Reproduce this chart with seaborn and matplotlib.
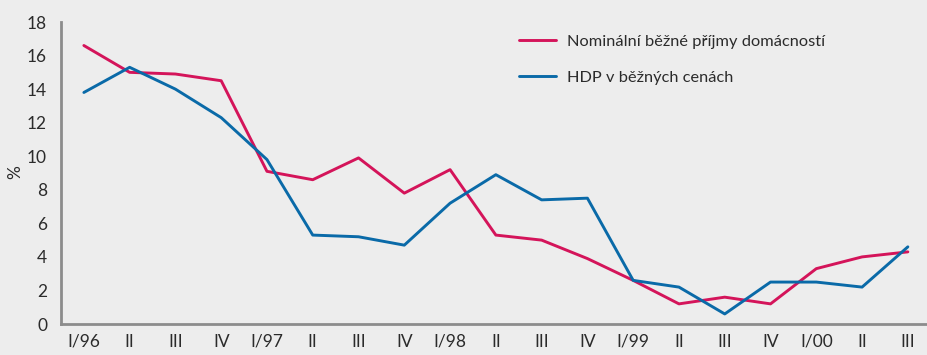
import matplotlib
matplotlib.use("Agg")
import matplotlib.pyplot as plt
import seaborn as sns
import pandas as pd
import numpy as np

quarters = ["I/96", "II", "III", "IV", "I/97", "II", "III", "IV", "I/98", "II",
            "III", "IV", "I/99", "II", "III", "IV", "I/00", "II", "III"]
prijmy = [16.6, 15.0, 14.9, 14.5, 9.1, 8.6, 9.9, 7.8, 9.2, 5.3,
          5.0, 3.9, 2.6, 1.2, 1.6, 1.2, 3.3, 4.0, 4.3]
hdp = [13.8, 15.3, 14.0, 12.3, 9.8, 5.3, 5.2, 4.7, 7.2, 8.9,
       7.4, 7.5, 2.6, 2.2, 0.6, 2.5, 2.5, 2.2, 4.6]
series_names = ["Nominální běžné příjmy domácností", "HDP v běžných cenách"]
colors = ["#d4145a", "#0a6aa8"]

bg = "#ededed"
text_col = "#2b2b2b"
axis_col = "#8c8c8c"

sns.set_theme(style="white")
plt.rcParams["font.family"] = ["Lato", "DejaVu Sans"]

idx = np.arange(len(quarters))
df = pd.DataFrame({
    "pos": np.concatenate([idx, idx]),
    "value": prijmy + hdp,
    "series": [series_names[0]] * len(idx) + [series_names[1]] * len(idx),
})

fig = plt.figure(figsize=(9.28, 3.55), dpi=100, facecolor=bg)
ax = fig.add_axes([0.0657, 0.0873, 0.9343, 0.8507], facecolor=bg)

sns.lineplot(data=df, x="pos", y="value", hue="series", palette=colors,
             hue_order=series_names, linewidth=2.1, ax=ax, legend=True)

ax.set_xlim(-0.5, 18.44)
ax.set_ylim(0, 18)
ax.set_yticks(range(0, 19, 2))
ax.set_yticklabels([str(v) for v in range(0, 19, 2)], fontsize=12.5, color=text_col)

ax.set_xticks(idx)
ax.set_xticklabels(quarters, fontsize=12.5, color=text_col)
ax.set_xticks(np.arange(-0.5, 18.0, 1.0), minor=True)
ax.tick_params(axis="x", which="major", length=0, pad=7)
ax.tick_params(axis="x", which="minor", length=6, width=2, color=axis_col, direction="out")
ax.tick_params(axis="y", which="major", length=6, width=2, color=axis_col, direction="out", pad=4)

for side in ("top", "right"):
    ax.spines[side].set_visible(False)
for side in ("left", "bottom"):
    ax.spines[side].set_color(axis_col)
    ax.spines[side].set_linewidth(2)

ax.set_xlabel("")
ax.set_ylabel("")
fig.text(15 / 928, 1 - 172 / 355, "%", rotation=90, fontsize=12.5, color=text_col,
         ha="center", va="center")

leg = ax.legend(loc="upper left", bbox_to_anchor=(0.528, 0.958), frameon=False,
                fontsize=11.8, handlelength=2.3, handletextpad=0.65, labelspacing=1.3,
                borderpad=0, borderaxespad=0, labelcolor=text_col)

fig.savefig("out.png", dpi=100, facecolor=bg)
